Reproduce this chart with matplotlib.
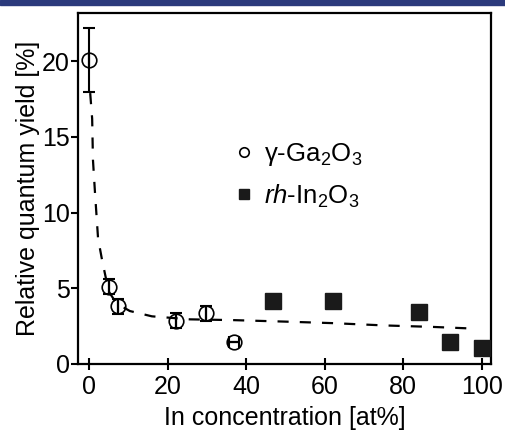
import numpy as np
import matplotlib
matplotlib.use('Agg')
import matplotlib.pyplot as plt
from matplotlib.patches import Rectangle

plt.rcParams['font.family'] = ['Liberation Sans', 'DejaVu Sans']
plt.rcParams['mathtext.fontset'] = 'custom'
plt.rcParams['mathtext.rm'] = 'Liberation Sans'
plt.rcParams['mathtext.it'] = 'Liberation Sans:italic'

# gamma-Ga2O3 (open circles)
ga_x = [0, 5.1, 7.4, 22.1, 29.8, 36.9]
ga_y = [20.1, 5.1, 3.8, 2.85, 3.35, 1.45]
ga_yerr = [2.1, 0.5, 0.5, 0.5, 0.5, 0.0]
ga_xerr = [0, 0, 0, 0, 0, 1.3]

# rh-In2O3 (filled squares)
in_x = [46.8, 62, 84, 92, 100]
in_y = [4.15, 4.15, 3.45, 1.45, 1.05]

# dashed fit curve
fit_x = [0.3, 0.8, 1.0, 1.5, 2.3, 3.3, 5, 7, 10.4, 16, 25.7, 36.6, 50, 62, 75, 87.5, 97]
fit_y = [17.9, 16.2, 13.5, 11.4, 8.3, 6.9, 4.8, 4.0, 3.5, 3.15, 2.95, 2.9, 2.8, 2.7, 2.55, 2.45, 2.35]

fig = plt.figure(figsize=(5.05, 4.3), dpi=100)
fig.patches.append(Rectangle((0, 0.988), 1, 0.012, transform=fig.transFigure,
                             color='#2b3a7c', zorder=0))
ax = fig.add_axes([0.1545, 0.1535, 0.8175, 0.8165])

ax.plot(fit_x, fit_y, 'k--', lw=1.6, dashes=(5, 5), zorder=1)

ax.errorbar(ga_x, ga_y, yerr=ga_yerr, xerr=ga_xerr, fmt='none', ecolor='k',
            elinewidth=1.5, capsize=4, capthick=1.5, zorder=2)
ax.plot(ga_x, ga_y, 'o', mfc='none', mec='k', mew=1.2, ms=10.5, zorder=3,
        label='γ-Ga$_{2}$O$_{3}$')
ax.plot(in_x, in_y, 's', color='#1a1a1a', ms=11.5, zorder=3,
        label=r'$\it{rh}$-In$_{2}$O$_{3}$')

ax.set_xlim(-2.8, 102.3)
ax.set_ylim(0, 23.2)
ax.set_xticks([0, 20, 40, 60, 80, 100])
ax.set_yticks([0, 5, 10, 15, 20])

for s in ax.spines.values():
    s.set_linewidth(1.6)
ax.tick_params(axis='x', direction='inout', length=8, width=1.5, labelsize=18, pad=4)
ax.tick_params(axis='y', direction='out', length=5, width=1.5, labelsize=18, pad=1)

ax.set_xlabel('In concentration [at%]', fontsize=18, labelpad=5)
ax.set_ylabel('Relative quantum yield [%]', fontsize=18, labelpad=1)

ax.legend(loc='upper left', bbox_to_anchor=(0.32, 0.70), frameon=False,
          fontsize=18.5, markerscale=0.65, handlelength=0.8, handletextpad=0.4,
          labelspacing=0.55)

fig.savefig('out.png', dpi=100)
